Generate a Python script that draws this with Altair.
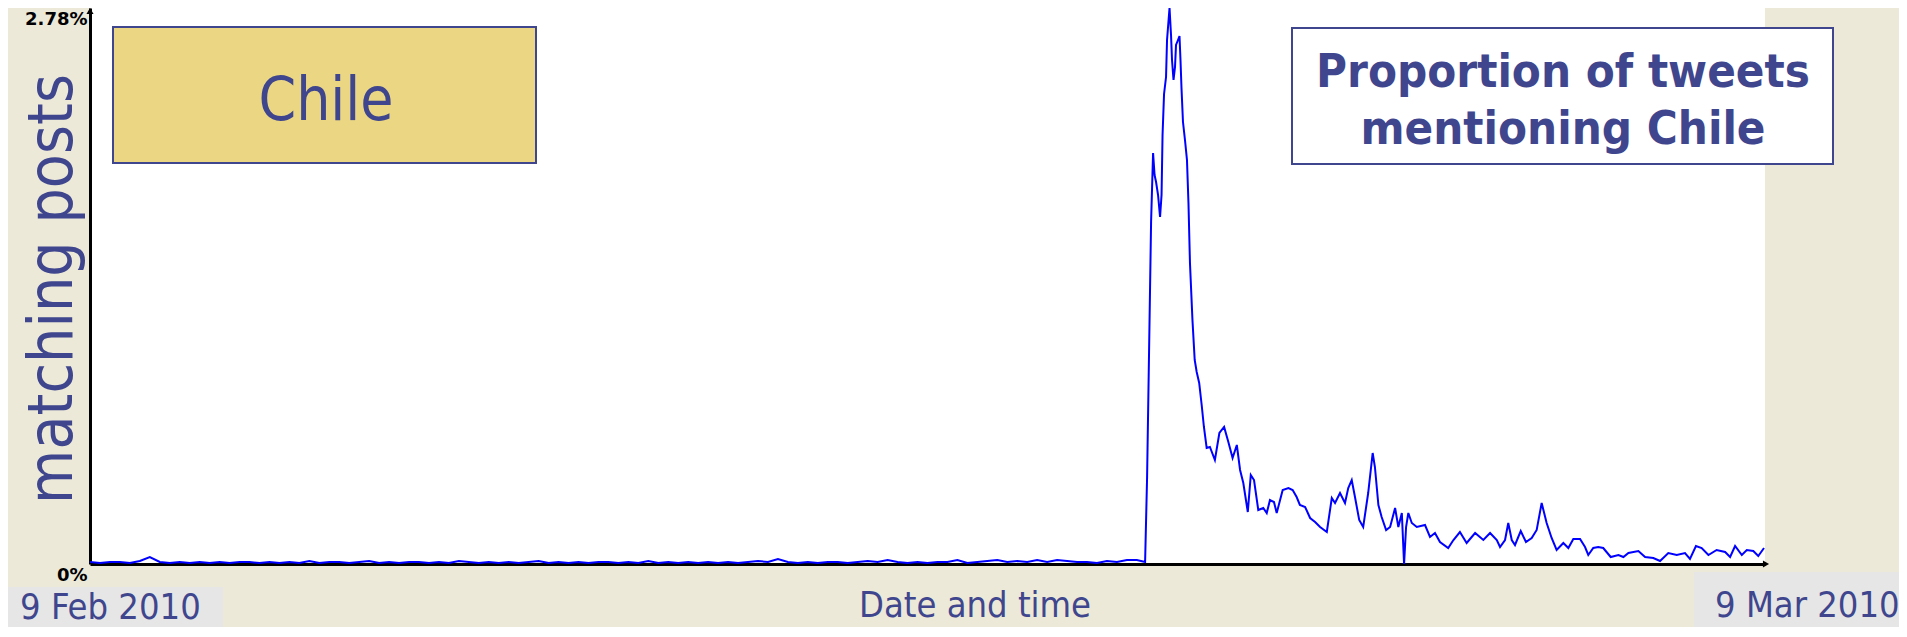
import altair as alt
import pandas as pd

# ---------------- data ----------------
# hours since 9 Feb 2010 00:00 (28 days = 672 h); values are % of tweets
pre_hours = list(range(0, 424, 4))
pre_pct = [
    0.01, 0.005, 0.01, 0.01, 0.005, 0.015, 0.035, 0.01, 0.005, 0.01,
    0.005, 0.01, 0.005, 0.01, 0.005, 0.01, 0.01, 0.005, 0.01, 0.005,
    0.01, 0.005, 0.015, 0.005, 0.01, 0.01, 0.005, 0.01, 0.015, 0.005,
    0.01, 0.005, 0.01, 0.01, 0.005, 0.01, 0.005, 0.015, 0.01, 0.005,
    0.01, 0.005, 0.01, 0.005, 0.01, 0.015, 0.005, 0.01, 0.005, 0.01,
    0.005, 0.01, 0.01, 0.005, 0.01, 0.005, 0.015, 0.005, 0.01, 0.005,
    0.01, 0.005, 0.01, 0.005, 0.01, 0.005, 0.01, 0.015, 0.01, 0.025,
    0.01, 0.005, 0.01, 0.005, 0.01, 0.01, 0.005, 0.01, 0.015, 0.01,
    0.02, 0.01, 0.005, 0.01, 0.005, 0.01, 0.01, 0.02, 0.005, 0.01,
    0.015, 0.02, 0.01, 0.015, 0.01, 0.02, 0.01, 0.02, 0.015, 0.01,
    0.01, 0.005, 0.015, 0.01, 0.02, 0.02,
]
post_hours = [
    423.3, 424.1, 424.9, 425.7, 426.5, 427.1, 427.7, 428.5, 429.3, 429.9,
    430.3, 430.9, 431.7, 432.1, 433.1, 433.7, 434.1, 434.7, 435.3, 435.7,
    436.5, 437.1, 437.5, 437.9, 438.5, 439.3, 440.1, 440.7, 441.3, 442.3,
    443.2, 444.0, 445.0, 446.0, 446.9, 448.0, 449.3, 451.3, 453.1, 455.0,
    456.7, 458.4, 460.1, 461.4, 462.7, 464.5, 465.7, 467.0, 468.7, 470.7,
    472.1, 473.4, 475.0, 476.1, 478.5, 480.8, 482.5, 484.1, 485.4, 487.5,
    489.5, 491.5, 493.5, 496.2, 498.2, 499.5, 501.5, 503.5, 504.8, 506.2,
    507.5, 509.2, 510.8, 512.8, 514.6, 515.5, 516.9, 518.2, 520.0, 521.6,
    523.6, 524.9, 526.3, 527.2, 528.0, 528.9, 530.3, 532.3, 535.6, 537.6,
    539.6, 541.6, 544.9, 547.0, 549.6, 552.3, 555.7, 559.0, 561.7, 564.4,
    565.7, 567.7, 569.0, 570.4, 571.7, 574.0, 576.1, 578.4, 580.4, 582.4,
    584.4, 586.4, 588.4, 591.1, 593.1, 595.1, 597.8, 599.8, 601.1, 603.1,
    605.1, 607.1, 610.1, 613.2, 615.2, 617.2, 621.2, 623.9, 627.2, 629.9,
    633.2, 636.6, 639.9, 641.9, 644.3, 646.6, 649.3, 652.6, 656.0, 658.0,
    660.0, 662.7, 664.7, 667.3, 669.3, 671.6,
]
post_pct = [
    0.01, 0.435, 1.07, 1.71, 2.055, 1.945, 1.91, 1.845, 1.735, 1.845,
    2.145, 2.35, 2.435, 2.62, 2.78, 2.645, 2.52, 2.42, 2.485, 2.595,
    2.62, 2.64, 2.52, 2.38, 2.21, 2.12, 2.02, 1.805, 1.505, 1.22,
    1.02, 0.96, 0.905, 0.795, 0.685, 0.58, 0.585, 0.52, 0.655, 0.685,
    0.61, 0.53, 0.595, 0.47, 0.405, 0.26, 0.445, 0.42, 0.27, 0.28,
    0.255, 0.32, 0.31, 0.255, 0.37, 0.38, 0.37, 0.335, 0.295, 0.285,
    0.23, 0.21, 0.185, 0.16, 0.33, 0.305, 0.355, 0.305, 0.38, 0.42,
    0.335, 0.22, 0.185, 0.355, 0.555, 0.485, 0.295, 0.235, 0.17, 0.185,
    0.28, 0.185, 0.255, 0.0, 0.185, 0.255, 0.205, 0.185, 0.195, 0.135,
    0.155, 0.11, 0.08, 0.12, 0.16, 0.105, 0.155, 0.12, 0.155, 0.12,
    0.085, 0.12, 0.205, 0.12, 0.095, 0.165, 0.11, 0.13, 0.17, 0.305,
    0.205, 0.13, 0.07, 0.105, 0.08, 0.125, 0.125, 0.085, 0.045, 0.08,
    0.085, 0.08, 0.035, 0.045, 0.035, 0.055, 0.065, 0.035, 0.03, 0.015,
    0.055, 0.045, 0.055, 0.025, 0.09, 0.08, 0.045, 0.07, 0.06, 0.035,
    0.09, 0.045, 0.07, 0.065, 0.04, 0.08,
]
assert len(pre_hours) == len(pre_pct)
assert len(post_hours) == len(post_pct)

y_ticks = [0, 2.78]
y_tick_labels = ["0%", "2.78%"]
start_label = "9 Feb 2010"
end_label = "9 Mar 2010"
x_title = "Date and time"
y_title = "matching posts"
keyword = "Chile"
title_lines = ["Proportion of tweets", "mentioning Chile"]

df = pd.DataFrame({"hour": pre_hours + post_hours, "pct": pre_pct + post_pct})

# ---------------- style ----------------
BLUE_TEXT = "#3F468E"
LINE_BLUE = "#0000FF"
BEIGE = "#ECE9D8"
GRAY_BOX = "#E6E6E6"
GOLD = "#EBD783"
FONT = "DejaVu Sans Condensed, Noto Sans, DejaVu Sans, sans-serif"

W, H = 1675, 556
TOTAL_W, TOTAL_H = 1891, 619
PAD_L, PAD_T = 82, 0
one = alt.Data(values=[{"k": 1}])

line = alt.Chart(df).mark_line(color=LINE_BLUE, strokeWidth=2, interpolate="linear").encode(
    x=alt.X("hour:Q", scale=alt.Scale(domain=[0, 672], nice=False, zero=False),
            axis=alt.Axis(labels=False, ticks=False, grid=False, domainColor="black",
                          domainWidth=3, title=None)),
    y=alt.Y("pct:Q", scale=alt.Scale(domain=[0, 2.78], nice=False),
            axis=alt.Axis(values=y_ticks,
                          labelExpr="datum.value == 0 ? '%s' : '%s'" % tuple(y_tick_labels),
                          ticks=False, grid=False, domainColor="black", domainWidth=3,
                          labelFont="DejaVu Sans", labelFontWeight="bold", labelFontSize=18,
                          labelColor="black", labelBaseline="top", labelOffset=2,
                          labelPadding=3, title=None)),
)


def box(x1, x2, y1, y2, fill, stroke=None, sw=0):
    kw = dict(fill=fill)
    if stroke:
        kw.update(stroke=stroke, strokeWidth=sw)
    return alt.Chart(one).mark_rect(**kw).encode(
        x=alt.value(x1), x2=alt.value(x2), y=alt.value(y1), y2=alt.value(y2))


def label(text, x, y, size, weight="normal", align="left", angle=0):
    return alt.Chart(one).mark_text(
        text=text, font=FONT, fontSize=size, fontWeight=weight, color=BLUE_TEXT,
        align=align, baseline="alphabetic", angle=angle,
    ).encode(x=alt.value(x), y=alt.value(y))


arrow_up = alt.Chart(one).mark_point(shape="triangle-up", filled=True, color="black", size=50,
                                     opacity=1).encode(x=alt.value(0), y=alt.value(3))
arrow_right = alt.Chart(one).mark_point(shape="triangle-right", filled=True, color="black",
                                        size=50, opacity=1).encode(x=alt.value(W + 1), y=alt.value(H))

layers = [
    line,
    arrow_up,
    arrow_right,
    box(-90, 133, 579, 640, GRAY_BOX),
    box(1604, 1830, 564, 640, GRAY_BOX),
    label(start_label, -70, 611, 36),
    label(end_label, 1625, 609, 36),
    label(x_title, 885, 609, 36, align="center"),
    label(y_title, -18, 281, 62, align="center", angle=270),
    box(23, 446, 19, 155, GOLD, BLUE_TEXT, 2),
    label(keyword, 236, 112, 60, align="center"),
    box(1202, 1743, 20, 156, "white", BLUE_TEXT, 2),
    label(title_lines[0], 1473, 79, 47, weight="bold", align="center"),
    label(title_lines[1], 1473, 136, 47, weight="bold", align="center"),
]

chart = alt.layer(*layers).properties(
    width=W, height=H,
    padding={"left": PAD_L, "top": PAD_T,
             "right": TOTAL_W - PAD_L - W, "bottom": TOTAL_H - PAD_T - H},
    autosize=alt.AutoSizeParams(type="none"),
).configure(background=BEIGE).configure_view(fill="white", strokeWidth=0)

chart.save("out.html", embed_options={"renderer": "svg", "actions": False})
